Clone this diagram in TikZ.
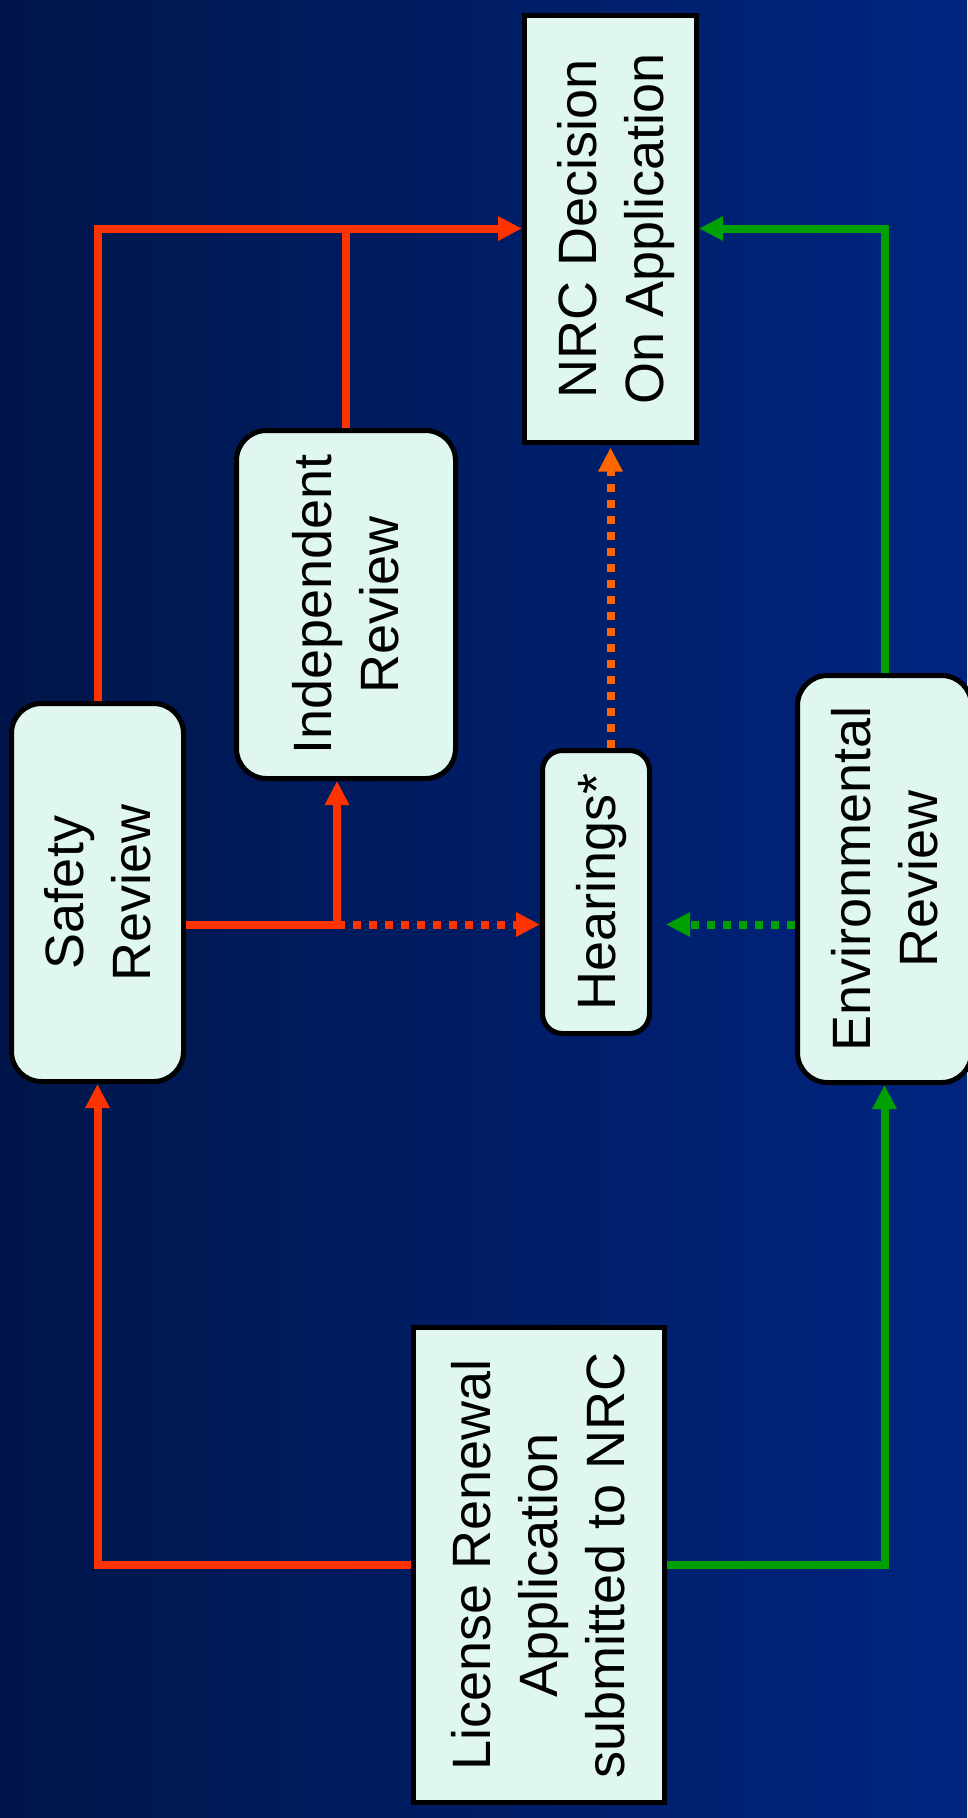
\documentclass[tikz,border=0pt]{standalone}
\usepackage{fontspec}
\setmainfont{Liberation Sans}
\usetikzlibrary{positioning, arrows.meta}

\definecolor{bgleft}{RGB}{0,22,74}
\definecolor{bgright}{RGB}{0,36,128}
\definecolor{boxfill}{RGB}{223,246,241}
\definecolor{redflow}{RGB}{255,51,0}
\definecolor{greenflow}{RGB}{0,160,0}
\definecolor{orangeflow}{RGB}{255,102,0}

\newcommand{\vtext}[1]{\hspace*{12pt}\rotatebox{90}{\begin{tabular}{@{}c@{}}#1\end{tabular}}}

\tikzset{
	box/.style={draw=black, line width=5pt, fill=boxfill, inner sep=0pt, font=\fontsize{54}{67}\selectfont},
	roundbox/.style={box, rounded corners=30pt},
	flow/.style={line width=8pt, -{Triangle[length=24pt,width=23pt]}},
	dots/.style={dash pattern=on 8pt off 8pt},
}

\begin{document}
\begin{tikzpicture}[x=1pt, y=-1pt]
	\useasboundingbox (0,0) rectangle (967,1818);
	\shade[left color=bgleft, right color=bgright] (0,0) rectangle (967,1818);
	\node[box, minimum width=172pt, minimum height=427pt] (nrc) at (610.5,228.5) {\vtext{NRC Decision\\On Application}};
	\node[roundbox, minimum width=219pt, minimum height=348pt] (indep) at (346,604.5) {\vtext{Independent\\Review}};
	\node[roundbox, minimum width=172pt, minimum height=378pt] (safety) at (97.5,892.5) {\vtext{Safety\\Review}};
	\node[roundbox, rounded corners=20pt, minimum width=107pt, minimum height=283pt] (hear) at (596,892) {\vtext{Hearings*}};
	\node[roundbox, minimum width=174pt, minimum height=407pt] (env) at (884.5,879) {\vtext{Environmental\\Review}};
	\node[box, minimum width=251pt, minimum height=475pt] (lic) at (538.5,1565) {\vtext{License Renewal\\Application\\submitted to NRC}};
	\coordinate (split) at (337,924.5);
	\draw[flow, redflow] (lic.west) -| (safety.south);
	\draw[flow, greenflow] (lic.east) -| (env.south);
	\draw[flow, redflow] (safety.north) |- (nrc.west);
	\draw[line width=8pt, redflow] (indep.north) -- (indep.north |- nrc.west);
	\draw[flow, greenflow] (env.north) |- (nrc.east);
	\draw[flow, redflow] (safety.east |- split) -- (split) -- (split |- indep.south);
	\draw[flow, redflow, dots] (split) -- (hear.west |- split);
	\draw[flow, greenflow, dots, shorten >=14pt] (env.west |- split) -- (hear.east |- split);
	\draw[flow, orangeflow, dots, shorten >=3pt] (nrc.south |- hear.north) -- (nrc.south);
\end{tikzpicture}
\end{document}
